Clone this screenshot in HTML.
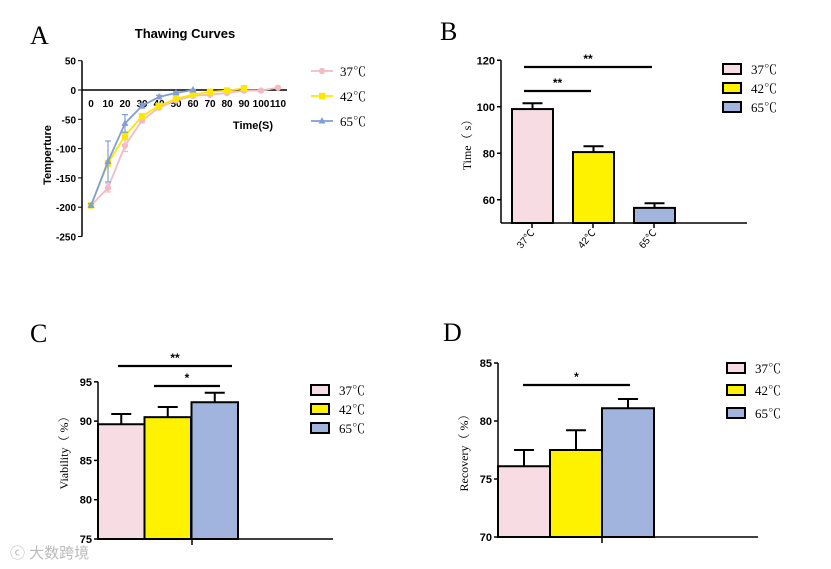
<!DOCTYPE html>
<html><head><meta charset="utf-8"><style>
body{margin:0;background:#fff;}
svg{display:block;}
text{font-family:"Liberation Sans","Noto Sans CJK SC",sans-serif;}
.serif{font-family:"Liberation Serif","Noto Serif CJK SC",serif;}
</style></head><body>
<svg id="s" width="831" height="569" xmlns="http://www.w3.org/2000/svg">
<text x="30" y="44" class="serif" font-size="26">A</text>
<text x="440" y="40" class="serif" font-size="26">B</text>
<text x="30" y="342" class="serif" font-size="26">C</text>
<text x="443" y="341" class="serif" font-size="26">D</text>
<text x="185" y="38" text-anchor="middle" font-size="13" font-weight="bold">Thawing Curves</text>
<text x="10" y="558" font-size="15" fill="#bbb">ⓒ 大数跨境</text>
</svg>
<script>
const NS='http://www.w3.org/2000/svg';
const svg=document.getElementById('s');
function mk(tag,attrs,parent){const e=document.createElementNS(NS,tag);for(const k in attrs)e.setAttribute(k,attrs[k]);(parent||svg).appendChild(e);return e;}
const COLORS=['#f7dde3','#fff200','#a0b4dd'];
const LINECOLORS=['#f2bcc4','#ffe600','#7f9fd6'];
const seriesNames=['37℃','42℃','65℃'];

// ---- Panel A data ----
const timesA=[0,10,20,30,40,50,60,70,80,90,100,110];
const t37=[-197,-167,-95,-52,-30,-18,-10,-8,-5,-1,-1,4];
const t42=[-197,-125,-78,-45,-27,-15,-8,-3,-1,3];
const t65=[-197,-122,-57,-27,-12,-5,0];
const e37=[3,7,10,4,3,2,2,2,2,1,1,1];
const e42=[3,5,6,4,3,2,2,1,1,1];
const e65=[3,35,15,4,3,2,1];
const yTicksA=[50,0,-50,-100,-150,-200,-250];

// ---- Panel B ----
const catsB=['37℃','42℃','65℃'];
const valsB=[99,80.5,56.5];
const errB=[2.5,2.5,2];
const yTicksB=[60,80,100,120];
// ---- Panel C ----
const valsC=[89.6,90.5,92.4];
const errC=[1.3,1.3,1.2];
const yTicksC=[75,80,85,90,95];
// ---- Panel D ----
const valsD=[76.1,77.5,81.1];
const errD=[1.4,1.7,0.8];
const yTicksD=[70,75,80,85];

// Panel A
const ax=v=>91+v*1.7;
const ay=v=>90-v*0.586;
const gA=mk('g',{});


mk('line',{x1:82,y1:ay(50),x2:82,y2:ay(-250),stroke:'#000','stroke-width':1.5},gA);
mk('line',{x1:82,y1:ay(0),x2:287,y2:ay(0),stroke:'#000','stroke-width':1.5},gA);
yTicksA.forEach(t=>{mk('line',{x1:78,y1:ay(t),x2:82,y2:ay(t),stroke:'#000'},gA);
 const tx=mk('text',{x:76,y:ay(t)+4,'text-anchor':'end','font-size':10,'font-weight':'bold'},gA);tx.textContent=t;
 });
timesA.forEach(t=>{const tx=mk('text',{x:ax(t),y:107,'text-anchor':'middle','font-size':10,'font-weight':'bold'},gA);tx.textContent=t;
 });
const yt=mk('text',{x:0,y:0,transform:'translate(51,155) rotate(-90)','text-anchor':'middle','font-size':11,'font-weight':'bold'},gA);yt.textContent='Temperture';

const xt=mk('text',{x:253,y:129,'text-anchor':'middle','font-size':11,'font-weight':'bold'},gA);xt.textContent='Time(S)';

[[t37,e37],[t42,e42],[t65,e65]].forEach((s,i)=>{
 const [vals,errs]=s;
 vals.forEach((v,j)=>{const x=ax(timesA[j]);
  mk('line',{x1:x,y1:ay(v+errs[j]),x2:x,y2:ay(v-errs[j]),stroke:LINECOLORS[i],'stroke-width':1.2},gA);
  mk('line',{x1:x-3,y1:ay(v+errs[j]),x2:x+3,y2:ay(v+errs[j]),stroke:LINECOLORS[i],'stroke-width':1.2},gA);
  mk('line',{x1:x-3,y1:ay(v-errs[j]),x2:x+3,y2:ay(v-errs[j]),stroke:LINECOLORS[i],'stroke-width':1.2},gA);});
 const p=mk('polyline',{points:vals.map((v,j)=>ax(timesA[j])+','+ay(v)).join(' '),fill:'none',stroke:LINECOLORS[i],'stroke-width':1.8},gA);
 
 vals.forEach((v,j)=>{const x=ax(timesA[j]),y=ay(v);let m;
  if(i==0)m=mk('circle',{cx:x,cy:y,r:3.2,fill:LINECOLORS[i]},gA);
  else if(i==1)m=mk('rect',{x:x-3.2,y:y-3.2,width:6.4,height:6.4,fill:LINECOLORS[i]},gA);
  else m=mk('polygon',{points:`${x},${y-4} ${x-3.5},${y+2.5} ${x+3.5},${y+2.5}`,fill:LINECOLORS[i]},gA);
  });
 const ly=71+i*25;
 mk('line',{x1:311,y1:ly,x2:333,y2:ly,stroke:LINECOLORS[i],'stroke-width':1.8},gA);
 if(i==0)mk('circle',{cx:322,cy:ly,r:3.2,fill:LINECOLORS[i]},gA);
 else if(i==1)mk('rect',{x:319,y:ly-3.2,width:6.4,height:6.4,fill:LINECOLORS[i]},gA);
 else mk('polygon',{points:`322,${ly-4} 318.5,${ly+2.5} 325.5,${ly+2.5}`,fill:LINECOLORS[i]},gA);
 const lt=mk('text',{x:340,y:ly+5,'font-size':13,class:'serif'},gA);lt.textContent=seriesNames[i];
 
});

function barChart(cfg){
 const g=mk('g',{});
 
 
 const y=v=>cfg.y0-(v-cfg.vmin)*cfg.scale;
 cfg.vals.forEach((v,i)=>{const x=cfg.barX[i];
  const b=mk('rect',{x:x,y:y(v),width:cfg.bw,height:cfg.y0-y(v),fill:COLORS[i],stroke:'#000','stroke-width':2},g);
  
  const cx=x+cfg.bw/2;
  mk('line',{x1:cx,y1:y(v),x2:cx,y2:y(v+cfg.err[i]),stroke:'#000','stroke-width':2},g);
  mk('line',{x1:cx-10,y1:y(v+cfg.err[i]),x2:cx+10,y2:y(v+cfg.err[i]),stroke:'#000','stroke-width':2},g);
 });
 mk('line',{x1:cfg.ax,y1:y(cfg.ticks[cfg.ticks.length-1]),x2:cfg.ax,y2:cfg.y0,stroke:'#000','stroke-width':1.5},g);
 mk('line',{x1:cfg.ax,y1:cfg.y0,x2:cfg.xend,y2:cfg.y0,stroke:'#000','stroke-width':1.5},g);
 cfg.ticks.forEach(t=>{mk('line',{x1:cfg.ax-4,y1:y(t),x2:cfg.ax,y2:y(t),stroke:'#000','stroke-width':1.5},g);
  const tx=mk('text',{x:cfg.ax-6,y:y(t)+4,'text-anchor':'end','font-size':11,'font-weight':'bold'},g);tx.textContent=t;
  });
 const yt=mk('text',{x:0,y:0,transform:`translate(${cfg.ax-30},${cfg.ylabY}) rotate(-90)`,'text-anchor':'middle','font-size':12,class:'serif'},g);yt.textContent=cfg.ylabel;
 
 cfg.sig.forEach(s=>{mk('line',{x1:s[0],y1:s[2],x2:s[1],y2:s[2],stroke:'#000','stroke-width':2.2},g);
  const st=mk('text',{x:(s[0]+s[1])/2,y:s[2]-4,'text-anchor':'middle','font-size':12,'font-weight':'bold'},g);st.textContent=s[3];
  });
 seriesNames.forEach((n,i)=>{const ly=cfg.legY[i];
  const r=mk('rect',{x:cfg.legX,y:ly-5,width:18,height:10,fill:COLORS[i],stroke:'#000','stroke-width':2},g);
  
  const t=mk('text',{x:cfg.legX+28,y:ly+5,'font-size':13,class:'serif'},g);t.textContent=n;
  });
 if(cfg.midTick)mk('line',{x1:cfg.midTick,y1:cfg.y0,x2:cfg.midTick,y2:cfg.y0+6,stroke:'#000','stroke-width':1.5},g);
 return {g,y};
}
const B=barChart({name:'chart-b',vals:valsB,err:errB,ticks:yTicksB,vmin:50,scale:2.325,y0:223,ax:501,xend:747,bw:41,barX:[512,573,634],
 ylabel:'Time（ s）',ylabY:142,sig:[[524,652,67,'**'],[524,591,91,'**']],legX:723,legY:[69,88,107]});
catsB.forEach((c,i)=>{const cx=[532,593,654][i];
 mk('line',{x1:cx,y1:223,x2:cx,y2:228,stroke:'#000','stroke-width':1.5},B.g);
 const t=mk('text',{x:0,y:0,transform:`translate(${cx+3},${233}) rotate(-50)`,'text-anchor':'end','font-size':10},B.g);t.textContent=c;
 });
barChart({name:'chart-c',vals:valsC,err:errC,ticks:yTicksC,vmin:75,scale:7.86,y0:539,ax:98,xend:333,bw:46.5,barX:[98,144.5,191.5],
 ylabel:'Viability（ %）',ylabY:450,sig:[[118,232,366,'**'],[154,220,386,'*']],legX:311,legY:[390,409,428],midTick:192});
barChart({name:'chart-d',vals:valsD,err:errD,ticks:yTicksD,vmin:70,scale:11.6,y0:537,ax:498,xend:758,bw:52,barX:[498,550,602],
 ylabel:'Recovery（ %）',ylabY:450,sig:[[523,630,385,'*']],legX:727,legY:[368,390,413],midTick:602});
</script>
</body></html>
